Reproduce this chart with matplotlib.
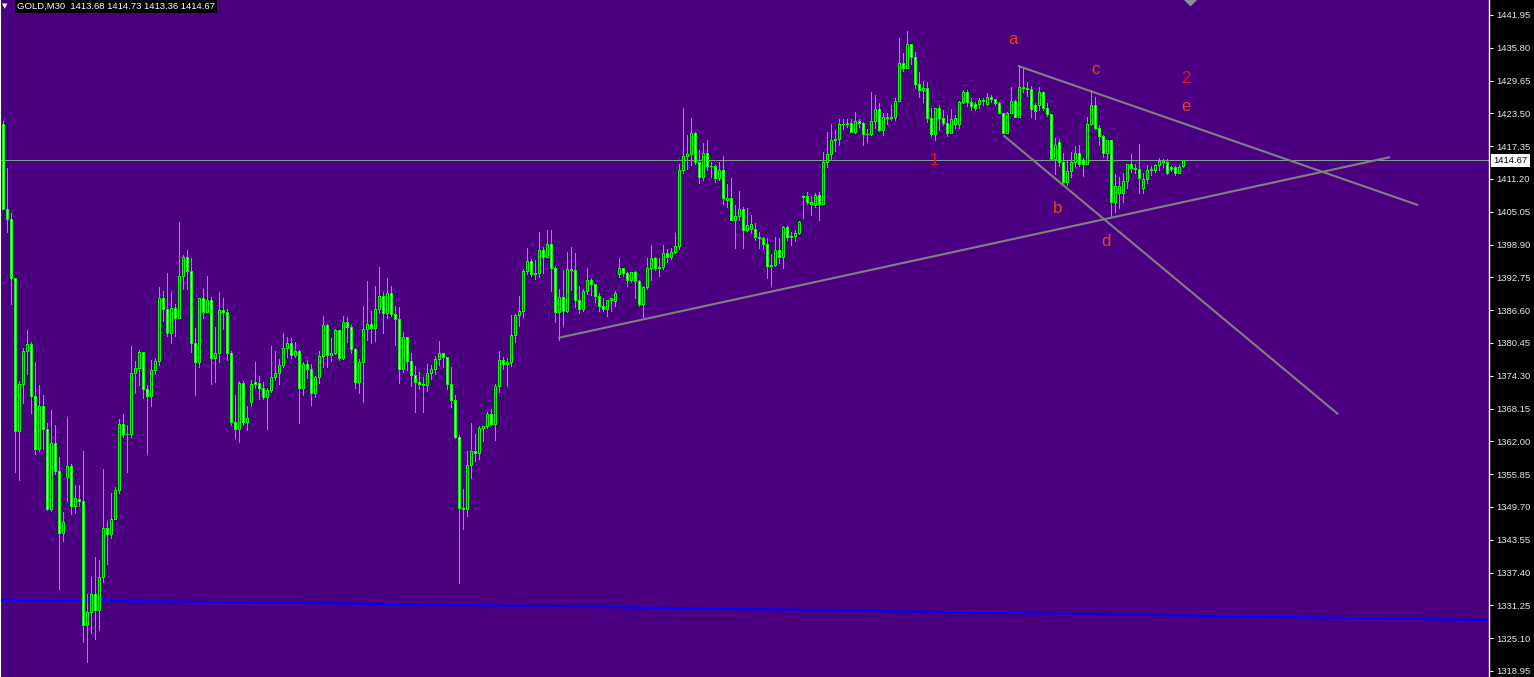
import matplotlib
matplotlib.use("Agg")
import matplotlib.pyplot as plt
import matplotlib.transforms as mtransforms

symbol_header = "GOLD,M30  1413.68 1414.73 1413.36 1414.67"

opens = [1421.6,1405.5,1403.7,1392.6,1363.9,1372.7,1378.9,1380.2,1370.6,1360.5,
1368.6,1364.3,1349.3,1361.7,1356.5,1344.9,1355.4,1357.3,1349.8,1351.2,
1350.9,1327.5,1330.0,1333.3,1330.4,1336.5,1345.8,1344.7,1347.5,1352.8,
1365.2,1363.3,1363.4,1374.8,1375.8,1378.7,1371.8,1370.6,1375.3,1377.0,
1388.8,1386.8,1382.3,1387.1,1385.1,1393.0,1396.5,1394.0,1380.5,1376.9,
1388.8,1386.3,1388.6,1377.7,1378.5,1386.6,1386.3,1378.6,1365.7,1364.3,
1372.9,1365.7,1369.4,1373.1,1372.9,1372.0,1370.4,1371.6,1374.0,1374.8,
1376.3,1379.6,1380.4,1378.2,1378.9,1372.1,1376.5,1375.5,1371.1,1374.1,
1378.0,1383.8,1378.2,1378.5,1382.9,1377.6,1384.3,1383.5,1379.4,1373.1,
1376.8,1383.0,1384.0,1383.2,1386.9,1389.3,1386.0,1389.8,1385.8,1384.9,
1375.5,1381.5,1377.1,1374.4,1373.2,1372.7,1372.6,1374.8,1375.6,1377.4,
1378.5,1377.8,1372.7,1369.8,1362.8,1349.5,1349.4,1357.6,1360.2,1359.8,
1364.5,1364.9,1367.2,1365.3,1372.3,1377.3,1376.6,1376.9,1381.9,1385.7,
1386.5,1393.9,1395.9,1393.4,1393.5,1397.9,1396.6,1399.1,1394.5,1386.2,
1389.0,1386.5,1394.3,1394.2,1388.6,1386.8,1390.2,1392.2,1391.5,1389.3,
1387.4,1386.8,1388.5,1388.4,1393.3,1394.5,1393.5,1392.3,1393.7,1392.1,
1387.8,1391.0,1394.6,1396.3,1394.6,1394.7,1397.3,1396.5,1397.6,1398.6,
1412.8,1415.6,1415.9,1419.8,1414.4,1411.5,1416.0,1413.6,1413.7,1411.3,
1412.9,1407.2,1407.6,1403.6,1404.3,1405.5,1401.6,1401.9,1401.8,1400.4,
1400.2,1399.1,1394.9,1395.0,1397.9,1396.6,1402.2,1400.4,1400.5,1401.0,
1407.8,1408.0,1406.5,1406.3,1408.2,1406.6,1414.3,1415.9,1418.6,1418.7,
1421.6,1421.5,1421.7,1420.1,1422.0,1421.7,1419.6,1419.7,1422.0,1424.3,
1420.3,1422.9,1422.6,1422.8,1425.8,1432.9,1432.1,1436.5,1434.1,1429.1,
1427.9,1428.3,1422.7,1419.6,1424.5,1422.6,1421.7,1419.9,1421.5,1421.5,
1425.7,1427.6,1425.7,1425.3,1425.3,1426.0,1425.3,1426.5,1426.2,1425.5,
1423.6,1419.9,1423.5,1425.8,1422.9,1428.5,1428.2,1428.0,1425.1,1425.1,
1427.5,1424.5,1423.3,1414.9,1418.1,1414.4,1410.7,1412.7,1414.4,1416.0,
1414.7,1414.1,1421.6,1425.1,1420.7,1419.3,1416.0,1418.6,1406.8,1408.5,
1408.5,1410.9,1414.0,1413.2,1413.1,1409.6,1411.2,1412.9,1412.9,1413.8,
1414.6,1414.3,1413.4,1413.4,1412.3,1413.68]

highs = [1422.1,1413.3,1404.9,1392.6,1373.3,1379.5,1382.9,1380.7,1376.8,1372.6,
1370.7,1365.4,1367.9,1365.1,1359.1,1348.8,1366.5,1357.8,1353.8,1353.8,
1360.2,1333.4,1336.5,1340.3,1339.8,1356.8,1347.1,1352.3,1353.5,1366.2,
1367.2,1365.1,1379.8,1377.0,1379.1,1378.7,1372.6,1377.3,1377.7,1391.0,
1390.2,1393.6,1390.1,1387.8,1403.1,1396.9,1397.9,1396.3,1383.3,1388.8,
1390.6,1393.0,1389.0,1383.5,1390.1,1388.8,1386.8,1378.9,1370.7,1373.3,
1373.3,1368.6,1373.6,1376.9,1374.3,1373.2,1372.1,1379.8,1379.0,1377.4,
1382.3,1381.6,1381.3,1380.7,1379.1,1376.9,1377.3,1376.6,1374.3,1379.0,
1385.5,1384.0,1381.4,1383.1,1382.9,1385.5,1385.3,1383.8,1379.6,1377.4,
1387.4,1392.1,1386.5,1391.1,1394.7,1390.1,1392.6,1391.1,1387.4,1387.2,
1382.5,1381.5,1378.6,1376.1,1375.0,1374.1,1376.5,1376.3,1378.1,1380.8,
1378.5,1377.8,1376.0,1370.7,1363.2,1353.1,1360.2,1365.5,1363.4,1364.8,
1364.9,1367.6,1368.0,1372.8,1379.0,1377.9,1377.6,1385.7,1385.9,1389.3,
1394.3,1398.2,1396.2,1396.1,1401.2,1398.4,1401.6,1401.6,1394.9,1390.5,
1394.1,1397.5,1398.4,1397.3,1391.1,1390.5,1394.5,1392.7,1391.5,1389.9,
1388.9,1388.6,1388.9,1390.2,1396.4,1394.6,1393.8,1393.8,1394.0,1392.3,
1391.2,1396.3,1398.8,1396.6,1396.3,1398.8,1398.0,1398.2,1401.0,1414.0,
1424.6,1419.4,1422.6,1420.0,1416.6,1417.9,1418.6,1414.4,1413.8,1414.4,
1415.5,1410.3,1411.3,1406.3,1409.0,1406.0,1405.8,1404.4,1402.9,1401.3,
1400.3,1400.1,1397.1,1400.4,1400.2,1402.3,1402.3,1401.3,1401.6,1403.4,
1408.2,1408.8,1408.0,1408.5,1408.8,1416.3,1420.1,1421.5,1420.4,1422.4,
1422.4,1422.4,1422.4,1423.7,1422.4,1421.8,1420.6,1427.5,1427.0,1425.4,
1423.6,1423.5,1425.1,1426.3,1437.7,1434.8,1438.9,1436.6,1435.1,1431.2,
1429.6,1429.4,1424.5,1424.5,1425.1,1424.1,1423.2,1424.3,1423.2,1425.8,
1427.9,1427.9,1426.3,1425.6,1426.4,1426.3,1427.3,1427.0,1426.2,1425.7,
1423.6,1423.7,1428.5,1426.0,1432.5,1432.1,1429.4,1428.6,1425.5,1428.5,
1427.5,1425.5,1423.3,1418.8,1418.7,1416.1,1414.8,1416.2,1417.4,1417.6,
1415.2,1422.8,1427.9,1426.6,1421.3,1419.4,1418.6,1418.6,1412.1,1411.6,
1412.3,1414.1,1415.9,1414.1,1417.8,1412.3,1413.8,1413.6,1414.1,1415.1,
1414.9,1415.0,1413.6,1413.6,1413.8,1414.73]

lows = [1405.5,1401.2,1387.8,1356.3,1354.8,1369.2,1374.7,1367.3,1359.7,1360.2,
1360.5,1349.1,1349.0,1355.8,1334.4,1343.4,1350.8,1348.3,1348.5,1349.9,
1324.4,1320.7,1326.0,1325.0,1326.7,1335.6,1339.1,1343.9,1347.4,1352.3,
1362.9,1356.2,1362.9,1371.0,1372.6,1370.2,1359.7,1368.7,1374.6,1376.4,
1384.6,1381.8,1380.5,1381.8,1385.1,1390.6,1390.6,1378.8,1370.7,1375.9,
1385.1,1386.3,1372.8,1373.2,1376.8,1383.1,1377.3,1365.1,1362.7,1361.8,
1365.1,1364.1,1368.6,1372.0,1369.9,1369.9,1364.3,1371.3,1373.5,1372.7,
1376.0,1377.9,1377.6,1377.9,1365.4,1370.7,1373.8,1368.8,1370.4,1372.9,
1376.0,1376.0,1377.1,1378.4,1377.3,1377.4,1380.7,1378.5,1372.1,1371.0,
1369.4,1381.1,1380.5,1380.9,1386.0,1382.3,1385.1,1385.6,1380.1,1372.9,
1375.1,1375.4,1372.3,1367.6,1371.8,1367.6,1371.5,1373.7,1374.6,1376.3,
1375.9,1371.8,1368.5,1362.7,1335.4,1345.5,1348.1,1355.2,1358.4,1358.7,
1362.1,1364.6,1365.0,1362.3,1371.3,1375.5,1372.4,1376.2,1380.7,1383.7,
1385.4,1393.4,1393.1,1392.4,1392.9,1393.5,1396.5,1390.2,1384.3,1381.0,
1383.7,1386.3,1390.4,1387.2,1386.1,1386.5,1389.6,1389.4,1388.2,1386.5,
1386.5,1385.6,1386.4,1387.4,1392.9,1393.1,1391.2,1391.8,1388.9,1387.4,
1385.3,1390.5,1392.3,1394.1,1393.1,1394.3,1395.7,1396.2,1397.4,1398.1,
1412.4,1413.1,1413.8,1414.1,1410.5,1411.0,1412.9,1411.6,1410.7,1411.0,
1406.6,1406.0,1403.5,1398.2,1403.5,1398.2,1401.4,1401.0,1399.8,1398.2,
1398.1,1392.7,1391.2,1394.8,1395.4,1394.5,1399.8,1398.9,1399.6,1400.9,
1403.8,1406.5,1404.4,1406.0,1403.5,1406.5,1413.5,1414.9,1416.5,1417.6,
1420.5,1421.0,1420.0,1419.9,1421.0,1417.6,1418.2,1419.4,1420.7,1420.2,
1419.4,1421.5,1422.3,1422.3,1425.8,1431.5,1432.0,1432.7,1428.2,1426.6,
1425.7,1421.9,1419.3,1418.5,1420.4,1421.3,1419.3,1419.8,1420.7,1420.7,
1425.4,1424.8,1424.1,1424.1,1424.5,1425.1,1425.1,1425.7,1425.1,1423.5,
1419.8,1419.8,1423.5,1422.8,1422.8,1427.6,1426.8,1422.9,1422.4,1424.1,
1424.1,1423.0,1414.8,1412.1,1413.6,1410.2,1410.1,1411.6,1413.5,1413.6,
1411.8,1414.0,1421.3,1420.6,1417.6,1415.4,1414.9,1404.3,1405.1,1405.7,
1406.9,1409.5,1412.6,1412.3,1408.5,1408.6,1410.5,1411.9,1412.5,1412.9,
1413.4,1412.1,1412.7,1411.9,1412.3,1413.36]

closes = [1405.5,1403.7,1392.6,1363.9,1372.7,1378.9,1380.2,1370.6,1360.5,1368.6,
1364.3,1349.3,1361.7,1356.5,1344.9,1346.8,1357.3,1349.8,1351.3,1350.9,
1327.5,1330.0,1333.3,1330.4,1336.5,1345.8,1344.7,1347.5,1352.8,1365.2,
1363.3,1363.4,1374.8,1375.8,1378.7,1371.8,1370.6,1375.3,1377.0,1388.8,
1386.8,1382.3,1387.1,1385.1,1393.0,1396.5,1394.0,1380.5,1376.9,1388.8,
1386.3,1388.6,1377.7,1378.5,1386.6,1386.3,1378.6,1365.7,1364.3,1372.9,
1365.7,1366.3,1372.8,1372.7,1372.0,1370.4,1371.6,1374.0,1374.8,1376.3,
1379.6,1380.4,1378.2,1378.9,1372.1,1376.5,1375.5,1371.1,1374.1,1378.0,
1383.8,1378.2,1378.5,1382.9,1377.6,1384.3,1383.5,1379.4,1373.1,1376.8,
1383.0,1384.0,1383.2,1386.9,1389.3,1386.0,1389.8,1385.8,1384.9,1375.5,
1381.5,1377.1,1374.4,1373.2,1372.7,1372.6,1374.8,1375.6,1377.4,1378.5,
1377.8,1372.7,1369.8,1362.8,1349.5,1349.4,1357.6,1360.2,1359.8,1364.5,
1364.9,1367.2,1365.3,1372.3,1377.3,1376.6,1376.9,1381.9,1385.7,1386.5,
1393.9,1395.9,1393.4,1393.5,1397.9,1396.6,1399.1,1394.5,1386.2,1389.0,
1386.5,1394.3,1394.2,1388.6,1386.8,1390.2,1392.2,1391.5,1389.3,1387.4,
1386.8,1388.5,1388.8,1389.8,1394.5,1393.5,1392.3,1393.7,1392.1,1387.8,
1391.0,1394.6,1396.3,1394.6,1394.7,1397.3,1396.5,1397.6,1398.6,1412.8,
1415.6,1415.9,1419.8,1414.4,1411.5,1416.0,1413.6,1413.7,1411.3,1412.9,
1407.6,1407.6,1403.6,1404.3,1405.5,1401.6,1402.6,1402.7,1400.3,1400.2,
1399.1,1394.9,1395.0,1397.9,1396.6,1402.2,1400.4,1400.5,1401.0,1403.1,
1408.0,1406.8,1406.9,1408.2,1406.6,1414.3,1415.9,1418.6,1418.7,1421.6,
1421.5,1421.7,1420.1,1422.0,1421.7,1419.6,1419.7,1422.0,1424.3,1420.3,
1422.9,1422.6,1422.8,1425.8,1432.9,1432.1,1436.5,1434.1,1429.1,1427.9,
1428.3,1422.7,1419.6,1424.5,1422.6,1421.7,1419.9,1422.4,1422.6,1425.7,
1427.6,1425.7,1424.8,1424.6,1426.0,1425.8,1426.6,1426.2,1425.5,1423.6,
1419.9,1423.5,1425.8,1422.9,1428.5,1428.2,1428.0,1424.3,1424.0,1427.5,
1424.5,1423.3,1414.9,1417.6,1414.4,1410.7,1412.7,1414.4,1416.0,1414.1,
1414.1,1421.6,1425.1,1420.7,1419.3,1416.0,1418.6,1406.8,1409.8,1409.9,
1410.9,1414.0,1413.2,1413.1,1411.3,1411.2,1412.9,1413.1,1413.8,1414.6,
1414.3,1412.3,1413.0,1412.3,1413.5,1414.67]

price_ticks = [1441.95, 1435.80, 1429.65, 1423.50, 1417.35, 1411.20, 1405.05,
               1398.90, 1392.75, 1386.60, 1380.45, 1374.30, 1368.15, 1362.00,
               1355.85, 1349.70, 1343.55, 1337.40, 1331.25, 1325.10, 1318.95]
bid_price = 1414.67

# trend lines: (bar index, price) pairs
trend_lines = [
    ((138.9, 1381.4), (346.9, 1415.3)),
    ((253.9, 1432.4), (353.9, 1406.3)),
    ((250.2, 1419.4), (333.9, 1367.1)),
]
# long moving average (blue)
ma_x = [-0.6, 99.4, 199.4, 299.4, 371.6]
ma_y = [1332.3, 1331.5, 1330.4, 1329.3, 1328.5]

wave_labels = ["1", "a", "b", "c", "d", "e", "2"]
wave_x = [232.9, 252.7, 263.7, 273.2, 275.9, 295.9, 295.9]
wave_y = [1414.6, 1437.3, 1405.6, 1431.8, 1399.4, 1424.7, 1430.0]

W, H = 1534, 677
PLOT_W = 1489
BG = "#4B0082"
GREEN = "#00FF00"
PX = 72 / 100  # one pixel in points

fig = plt.figure(figsize=(W / 100, H / 100), dpi=100)
fig.patch.set_facecolor("black")
ax = fig.add_axes([0, 0, PLOT_W / W, 1])
ax.set_facecolor(BG)

n = len(closes)
xs = list(range(n))
ax.set_xlim(-0.625, (PLOT_W - 2.5) / 4)
ax.set_ylim(1317.82, 1444.76)

# moving average
ax.plot(ma_x, ma_y, color="#0000FF", lw=1.5, zorder=1, solid_capstyle="butt")
# bid line
ax.axhline(bid_price, color="#8a9a9a", lw=PX, zorder=1, antialiased=False)

# wicks
ax.vlines(xs, lows, highs, color=GREEN, lw=PX, zorder=2, antialiased=False)
# bodies
bottoms = [min(o, c) for o, c in zip(opens, closes)]
heights = [max(abs(c - o), 0.08) for o, c in zip(opens, closes)]
faces = [BG if c >= o else "white" for o, c in zip(opens, closes)]
bars = ax.bar(xs, heights, bottom=bottoms, width=0.5, color=faces,
              edgecolor=GREEN, linewidth=PX, zorder=3)
for b in bars:
    b.set_antialiased(False)

# trend lines
for (x0, y0), (x1, y1) in trend_lines:
    ax.plot([x0, x1], [y0, y1], color="#808080", lw=1.5, zorder=4,
            solid_capstyle="butt")

# wave labels
for lab, x, y in zip(wave_labels, wave_x, wave_y):
    col = "#E81818" if lab.isdigit() else "#E8461C"
    ax.text(x, y, lab, color=col, fontsize=12, ha="center", va="center",
            family="Liberation Sans", zorder=5)

# small marker at top
ax.plot([296.9], [1444.9], marker="D", color="#909090", ms=6, zorder=5,
        clip_on=True)

# axes styling
for s in ["top", "bottom"]:
    ax.spines[s].set_visible(False)
ax.spines["left"].set_color("white")
ax.spines["left"].set_linewidth(1.5)
ax.spines["right"].set_color("white")
ax.spines["right"].set_linewidth(1.0)
ax.set_xticks([])
ax.yaxis.tick_right()
ax.set_yticks(price_ticks)
ax.set_yticklabels([f"{v:.2f}" for v in price_ticks])
ax.tick_params(axis="y", colors="white", labelcolor="#e8e8e8", length=3,
               width=0.8, pad=2, labelsize=6.8)
for t in ax.get_yticklabels():
    t.set_family("Liberation Sans")

# current price label
trans = mtransforms.blended_transform_factory(ax.transAxes, ax.transData)
ax.text(1.0 + 4 / PLOT_W, bid_price, f"{bid_price:.2f}", transform=trans,
        ha="left", va="center", fontsize=6.8, family="Liberation Sans",
        color="black", zorder=10, clip_on=False,
        bbox=dict(facecolor="white", edgecolor="none", pad=1.6))

# header
fig.text(17 / W, 1 - 6.5 / H, symbol_header, color="white", fontsize=6.8,
         family="Liberation Sans", ha="left", va="center",
         bbox=dict(facecolor="black", edgecolor="none", pad=1.5))
fig.text(4.5 / W, 1 - 6.5 / H, "\u25BC", color="white", fontsize=5,
         family="DejaVu Sans", ha="center", va="center")

fig.savefig("out.png", dpi=100, facecolor=fig.get_facecolor())
